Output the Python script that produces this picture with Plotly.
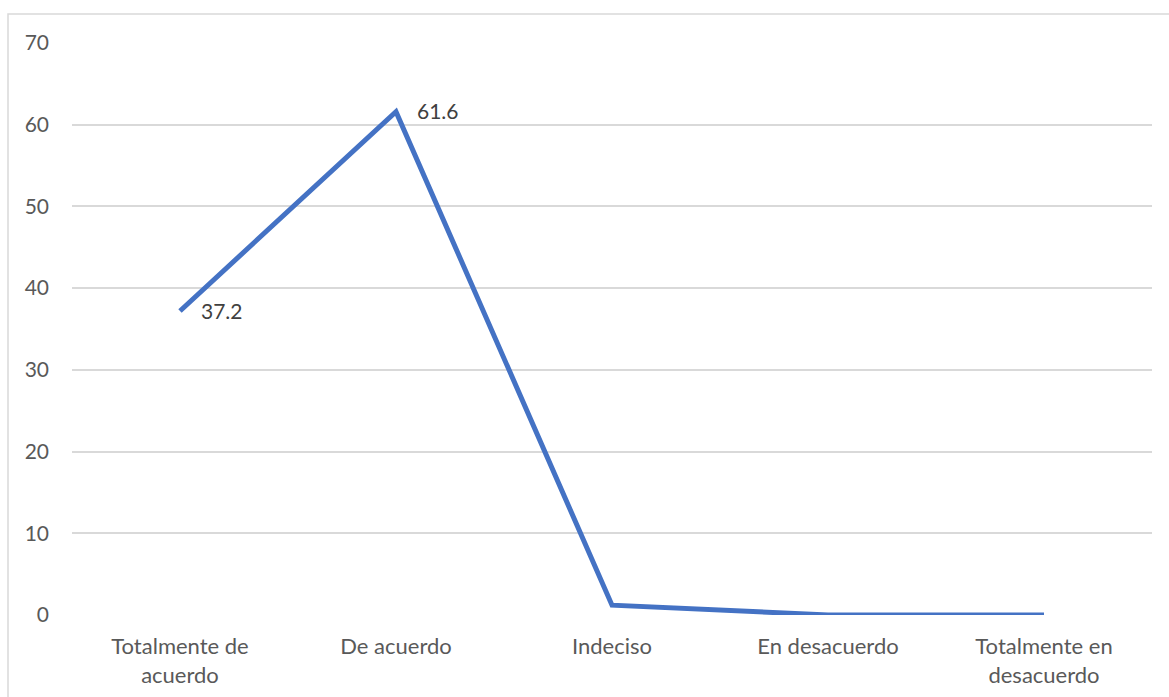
import plotly.graph_objects as go

categories = ["Totalmente de<br>acuerdo", "De acuerdo", "Indeciso", "En desacuerdo", "Totalmente en<br>desacuerdo"]
values = [37.2, 61.6, 1.2, 0, 0]
labelled = [True, True, False, False, False]
y_ticks = [0, 10, 20, 30, 40, 50, 60, 70]

W, H = 1169, 697
ML, MR, MT, MB = 72, 17, 43, 82
pw, ph = W - ML - MR, H - MT - MB

font_family = "Lato, 'Open Sans', sans-serif"
grey = "#595959"

fig = go.Figure()
fig.add_trace(go.Scatter(
    x=categories, y=values, mode="lines",
    line=dict(color="#4472C4", width=5),
    cliponaxis=False, showlegend=False,
))

# data labels to the right of the first two points
for cat, val, show in zip(categories, values, labelled):
    if show:
        fig.add_annotation(x=cat, y=val, text=f"{val:.1f}", showarrow=False,
                           xanchor="left", yanchor="middle", xshift=19, yshift=1,
                           font=dict(family=font_family, size=21, color="#404040"))

# outer chart frame (left and top edges visible)
fig.add_shape(type="rect", xref="paper", yref="paper",
              x0=(8 - ML) / pw, x1=(W + 20 - ML) / pw,
              y0=-(MB + 20) / ph, y1=1 + (MT - 14) / ph,
              line=dict(color="#D9D9D9", width=1.5), layer="below")

fig.update_layout(
    width=W, height=H,
    margin=dict(l=ML, r=MR, t=MT, b=MB),
    paper_bgcolor="white", plot_bgcolor="white",
    font=dict(family=font_family, size=21, color=grey),
    xaxis=dict(range=[-0.5, 4.5], showgrid=False, showline=False, zeroline=False,
               automargin=False, ticks="", ticklabelstandoff=16,
               tickfont=dict(size=22, color=grey)),
    yaxis=dict(range=[0, 70], tickvals=y_ticks, showgrid=True,
               gridcolor="#D9D9D9", gridwidth=1.5, zeroline=False,
               automargin=False, showline=False, ticks="", ticklabelstandoff=22,
               tickfont=dict(size=21, color=grey)),
)
fig.write_html("out.html")
